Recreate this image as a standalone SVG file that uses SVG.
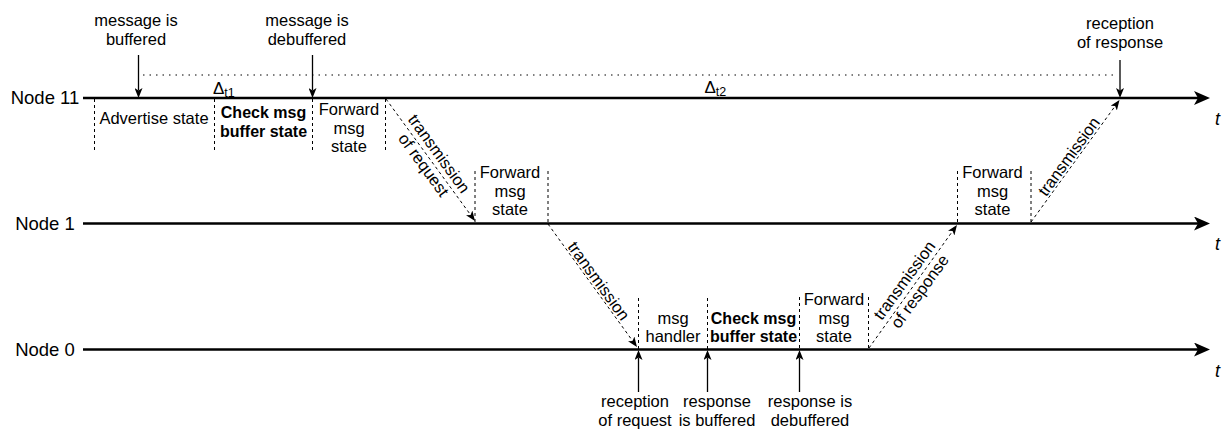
<svg xmlns="http://www.w3.org/2000/svg" width="1230" height="432" viewBox="0 0 1230 432">
<style>
text{font-family:"Liberation Sans",Arial,Helvetica,sans-serif;font-size:16.5px;fill:#000}
.c{text-anchor:middle}
.b{font-weight:bold;font-size:16px}
.node{font-size:18.5px;text-anchor:middle}
.t{font-style:italic;text-anchor:middle;font-size:18px}
.axis{stroke:#000;stroke-width:2.5;fill:none}
.dash{stroke:#000;stroke-width:1;stroke-dasharray:3 3;fill:none}
.dot{stroke:#000;stroke-width:1;stroke-dasharray:1.5 5;fill:none}
.arr{stroke:#000;stroke-width:1.3;fill:none}
.delta{font-size:17px}
.sub{font-size:12.5px}
</style>
<defs>
<marker id="big" viewBox="0 0 16 14" refX="4" refY="7" markerWidth="16" markerHeight="14" markerUnits="userSpaceOnUse" orient="auto">
<path d="M0,0 L16,7 L0,14 L4,7 Z" fill="#000"/>
</marker>
<marker id="sm" viewBox="0 0 10 8" refX="2.5" refY="4" markerWidth="10" markerHeight="8" markerUnits="userSpaceOnUse" orient="auto">
<path d="M0,0 L10,4 L0,8 L2.5,4 Z" fill="#000"/>
</marker>
</defs>

<g id="node11">
<text class="node" x="45" y="104">Node 11</text>
<line class="axis" x1="83" y1="98" x2="1198" y2="98" marker-end="url(#big)"/>
<text class="t" x="1217.5" y="125">t</text>
</g>
<g id="node1">
<text class="node" x="45" y="229.5">Node 1</text>
<line class="axis" x1="83" y1="223.5" x2="1198" y2="223.5" marker-end="url(#big)"/>
<text class="t" x="1217.5" y="250">t</text>
</g>
<g id="node0">
<text class="node" x="45" y="355.5">Node 0</text>
<line class="axis" x1="83" y1="349.5" x2="1198" y2="349.5" marker-end="url(#big)"/>
<text class="t" x="1217.5" y="376.5">t</text>
</g>

<g id="node11-states">
<line class="dash" x1="94.5" y1="99" x2="94.5" y2="150"/>
<line class="dash" x1="214.5" y1="99" x2="214.5" y2="150"/>
<line class="dash" x1="312.5" y1="99" x2="312.5" y2="150"/>
<line class="dash" x1="385.5" y1="99" x2="385.5" y2="150"/>
<text class="c" x="154" y="124">Advertise state</text>
<text class="c b" x="263.5" y="118">Check msg</text>
<text class="c b" x="263.5" y="136.5">buffer state</text>
<text class="c" x="349" y="115">Forward</text>
<text class="c" x="349" y="133.5">msg</text>
<text class="c" x="349" y="152">state</text>
<text class="delta" x="213" y="93.5">Δ<tspan class="sub" dy="3">t1</tspan></text>
<text class="delta" x="704.5" y="92.5">Δ<tspan class="sub" dy="3">t2</tspan></text>
</g>

<g id="node1-states">
<line class="dash" x1="475" y1="171" x2="475" y2="223"/>
<line class="dash" x1="548" y1="171" x2="548" y2="223"/>
<text class="c" x="510" y="178">Forward</text>
<text class="c" x="510" y="196.5">msg</text>
<text class="c" x="510" y="215">state</text>
<line class="dash" x1="957.5" y1="171" x2="957.5" y2="223"/>
<line class="dash" x1="1031" y1="171" x2="1031" y2="223"/>
<text class="c" x="992.5" y="178">Forward</text>
<text class="c" x="992.5" y="196.5">msg</text>
<text class="c" x="992.5" y="215">state</text>
</g>

<g id="node0-states">
<line class="dash" x1="638.5" y1="298" x2="638.5" y2="349"/>
<line class="dash" x1="707.5" y1="298" x2="707.5" y2="349"/>
<line class="dash" x1="799.5" y1="297" x2="799.5" y2="349"/>
<line class="dash" x1="868.5" y1="297" x2="868.5" y2="349"/>
<text class="c" x="673" y="323.5">msg</text>
<text class="c" x="673" y="342">handler</text>
<text class="c b" x="753.5" y="323.5">Check msg</text>
<text class="c b" x="753.5" y="342">buffer state</text>
<text class="c" x="834" y="305">Forward</text>
<text class="c" x="834" y="323.5">msg</text>
<text class="c" x="834" y="342">state</text>
</g>

<g id="events">
<text class="c" x="136" y="25.5">message is</text>
<text class="c" x="136" y="45">buffered</text>
<text class="c" x="307" y="25.5">message is</text>
<text class="c" x="307" y="45">debuffered</text>
<text class="c" x="1120" y="28.5">reception</text>
<text class="c" x="1120" y="48">of response</text>
<text class="c" x="635" y="407">reception</text>
<text class="c" x="635" y="426">of request</text>
<text class="c" x="717" y="407">response</text>
<text class="c" x="717" y="426">is buffered</text>
<text class="c" x="810" y="407">response is</text>
<text class="c" x="810" y="426">debuffered</text>
</g>

<g id="connectors">
<line class="dot" x1="143" y1="75" x2="1117" y2="75"/>
<line class="arr" x1="138.5" y1="55" x2="138.5" y2="90.5" marker-end="url(#sm)"/>
<line class="arr" x1="312.5" y1="55" x2="312.5" y2="90.5" marker-end="url(#sm)"/>
<line class="arr" x1="1120" y1="60" x2="1120" y2="90.5" marker-end="url(#sm)"/>
<line class="arr" x1="638.5" y1="392" x2="638.5" y2="357.5" marker-end="url(#sm)"/>
<line class="arr" x1="707.5" y1="392" x2="707.5" y2="357.5" marker-end="url(#sm)"/>
<line class="arr" x1="799.5" y1="392" x2="799.5" y2="357.5" marker-end="url(#sm)"/>

<line class="dash" x1="386" y1="99" x2="470.6" y2="214.9" marker-end="url(#sm)"/>
<line class="dash" x1="548" y1="224" x2="632.6" y2="340.9" marker-end="url(#sm)"/>
<line class="dash" x1="869" y1="348" x2="952.6" y2="231.1" marker-end="url(#sm)"/>
<line class="dash" x1="1031" y1="222" x2="1115.1" y2="106.1" marker-end="url(#sm)"/>

<g transform="translate(430.5,160) rotate(54)">
<text class="c" x="0" y="-5">transmission</text>
<text class="c" x="0" y="14">of request</text>
</g>
<g transform="translate(592.5,285.5) rotate(54)">
<text class="c" x="0" y="-2">transmission</text>
</g>
<g transform="translate(913,286.5) rotate(-54)">
<text class="c" x="0" y="-5">transmission</text>
<text class="c" x="0" y="14">of response</text>
</g>
<g transform="translate(1075,161) rotate(-54)">
<text class="c" x="0" y="-2">transmission</text>
</g>
</g>
</svg>
